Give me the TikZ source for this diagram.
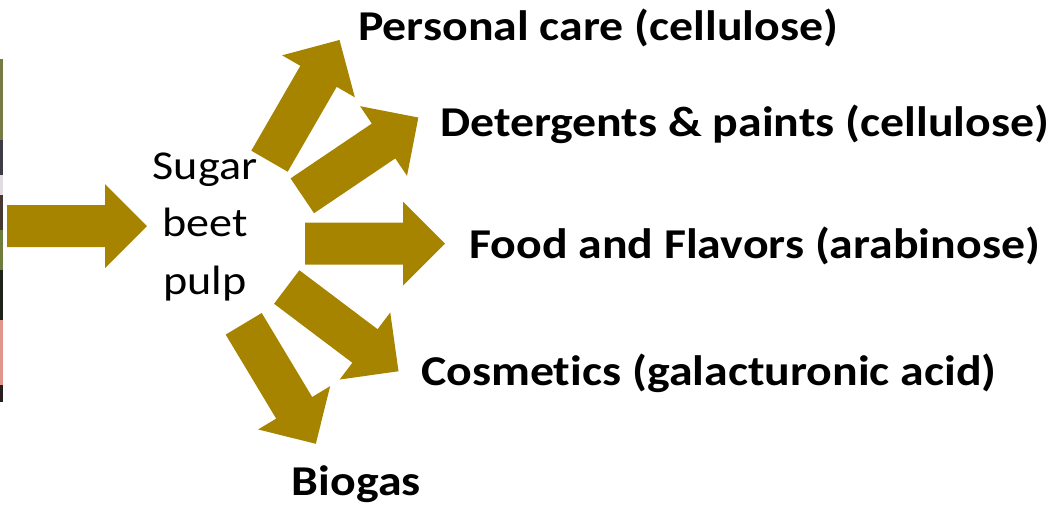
\documentclass[tikz,border=0pt]{standalone}
\usepackage{fontspec}
\setmainfont[Ligatures=NoCommon]{Carlito}
\newfontfamily\widefont[FakeStretch=1.125,Ligatures=NoCommon]{Carlito}
\definecolor{gold}{HTML}{A68400}
\begin{document}
\begin{tikzpicture}[x=1pt,y=-1pt,
  fatarrow/.pic={\fill[gold] (0,-21) -- (98,-21) -- (98,-42) -- (140,0) -- (98,42) -- (98,21) -- (0,21) -- cycle;},
  lbl/.style={anchor=base west,inner sep=0pt,font=\widefont\bfseries\fontsize{42.5}{50}\selectfont},
  src/.style={align=center,inner sep=0pt,font=\widefont\fontsize{41}{57.5}\selectfont}]
\useasboundingbox (0,0) rectangle (1049,507);
% cropped photo strip at the left edge
\fill[color={rgb,255:red,120;green,122;blue,70}] (0,59) rectangle (2.5,140);
\fill[color={rgb,255:red,60;green,60;blue,70}] (0,140) rectangle (2.5,175);
\fill[color={rgb,255:red,225;green,220;blue,225}] (0,175) rectangle (2.5,195);
\fill[color={rgb,255:red,70;green,55;blue,50}] (0,195) rectangle (2.5,230);
\fill[color={rgb,255:red,110;green,125;blue,60}] (0,230) rectangle (2.5,270);
\fill[color={rgb,255:red,30;green,35;blue,25}] (0,270) rectangle (2.5,320);
\fill[color={rgb,255:red,225;green,150;blue,140}] (0,320) rectangle (2.5,385);
\fill[color={rgb,255:red,40;green,30;blue,30}] (0,385) rectangle (2.5,402);
% arrows
\pic (ain) at (7,226) {fatarrow};
\pic[rotate=60] (apc) at (269.5,161.2) {fatarrow};
\pic[rotate=34] (adp) at (302.3,195.8) {fatarrow};
\pic (aff) at (305,243.5) {fatarrow};
\pic[rotate=-37] (aco) at (286.7,287) {fatarrow};
\pic[rotate=-59] (abg) at (243.7,323.8) {fatarrow};
% texts
\node[src,anchor=base] (sbp) at (205,294) {Sugar\\beet\\pulp};
\node[lbl] (pc) at (358,40.7) {Personal care (cellulose)};
\node[lbl] (dp) at (440,136.7) {Detergents \& paints (cellulose)};
\node[lbl] (ff) at (469,258.3) {Food and Flavors (arabinose)};
\node[lbl] (co) at (421,385) {Cosmetics (galacturonic acid)};
\node[lbl] (bg) at (291.7,495.7) {Biogas};
\end{tikzpicture}
\end{document}
